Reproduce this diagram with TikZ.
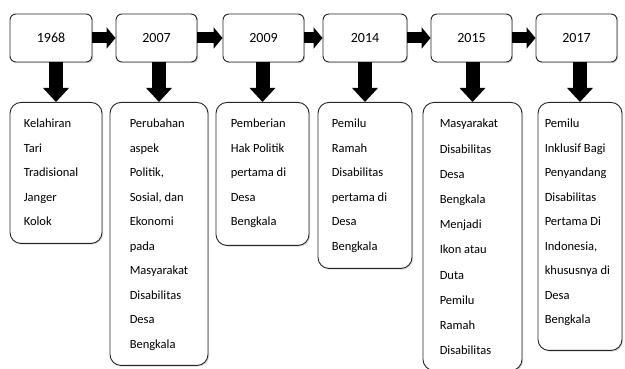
\documentclass[tikz,border=0pt]{standalone}
\usepackage{fontspec}
\setmainfont{Carlito}
\usetikzlibrary{arrows.meta,shadows,calc}
\tikzset{
  yearbox/.style={draw=black!85, line width=0.9pt, rounded corners=6pt, fill=white,
    minimum height=48pt, inner sep=0pt, font=\fontsize{14}{16}\selectfont,
    drop shadow={shadow xshift=1.2pt, shadow yshift=-1.2pt, opacity=0.25, fill=black!60}},
  lowbox/.style={draw=black!85, line width=0.9pt, rounded corners=11pt, fill=white,
    anchor=north, inner sep=0pt,
    drop shadow={shadow xshift=1.2pt, shadow yshift=-1.2pt, opacity=0.25, fill=black!60}},
  desc/.style={anchor=north west, inner sep=0pt, align=left,
    font=\fontsize{12.5}{24.5}\selectfont},
  harrow/.style={line width=11pt, -{Triangle[length=9pt, width=21pt]}},
  varrow/.style={line width=14pt, -{Triangle[length=14pt, width=25pt]}},
}
\begin{document}
\begin{tikzpicture}[x=1pt,y=1pt]
\useasboundingbox (0,0) rectangle (625,369);
% year boxes
\node[yearbox, minimum width=82pt] (t1) at (51,331) {1968};
\node[yearbox, minimum width=81pt] (t2) at (156.5,331) {2007};
\node[yearbox, minimum width=81pt] (t3) at (263.5,331) {2009};
\node[yearbox, minimum width=84pt] (t4) at (365,331) {2014};
\node[yearbox, minimum width=81pt] (t5) at (471.5,331) {2015};
\node[yearbox, minimum width=81pt] (t6) at (576.5,331) {2017};
% lower boxes
\node[lowbox, minimum width=92pt, minimum height=141pt] (l1) at (56,267) {};
\node[lowbox, minimum width=98pt, minimum height=263pt] (l2) at (159,267) {};
\node[lowbox, minimum width=93pt, minimum height=143pt] (l3) at (262.5,267) {};
\node[lowbox, minimum width=94pt, minimum height=166pt] (l4) at (365,267) {};
\node[lowbox, minimum width=99pt, minimum height=268pt] (l5) at (472.5,267) {};
\node[lowbox, minimum width=84pt, minimum height=248pt] (l6) at (580,267) {};
% texts
\node[desc] (d1) at ($(l1.north west)+(14,-17)$) {Kelahiran\\Tari\\Tradisional\\Janger\\Kolok};
\node[desc] (d2) at ($(l2.north west)+(20,-17)$) {Perubahan\\aspek\\Politik,\\Sosial, dan\\Ekonomi\\pada\\Masyarakat\\Disabilitas\\Desa\\Bengkala};
\node[desc] (d3) at ($(l3.north west)+(15,-17)$) {Pemberian\\Hak Politik\\pertama di\\Desa\\Bengkala};
\node[desc] (d4) at ($(l4.north west)+(14,-17)$) {Pemilu\\Ramah\\Disabilitas\\pertama di\\Desa\\Bengkala};
\node[desc, font=\fontsize{12.5}{25.2}\selectfont] (d5) at ($(l5.north west)+(17,-17)$) {Masyarakat\\Disabilitas\\Desa\\Bengkala\\Menjadi\\Ikon atau\\Duta\\Pemilu\\Ramah\\Disabilitas};
\node[desc] (d6) at ($(l6.north west)+(7,-17)$) {Pemilu\\Inklusif Bagi\\Penyandang\\Disabilitas\\Pertama Di\\Indonesia,\\khususnya di\\Desa\\Bengkala};
% horizontal arrows
\draw[harrow] (t1.east) -- (t2.west);
\draw[harrow] (t2.east) -- (t3.west);
\draw[harrow] (t3.east) -- (t4.west);
\draw[harrow] (t4.east) -- (t5.west);
\draw[harrow] (t5.east) -- (t6.west);
% vertical arrows
\draw[varrow] (l1.north |- t1.south) -- (l1.north);
\draw[varrow] (l2.north |- t2.south) -- (l2.north);
\draw[varrow] (l3.north |- t3.south) -- (l3.north);
\draw[varrow] (l4.north |- t4.south) -- (l4.north);
\draw[varrow] (l5.north |- t5.south) -- (l5.north);
\draw[varrow] (l6.north |- t6.south) -- (l6.north);
\end{tikzpicture}
\end{document}
